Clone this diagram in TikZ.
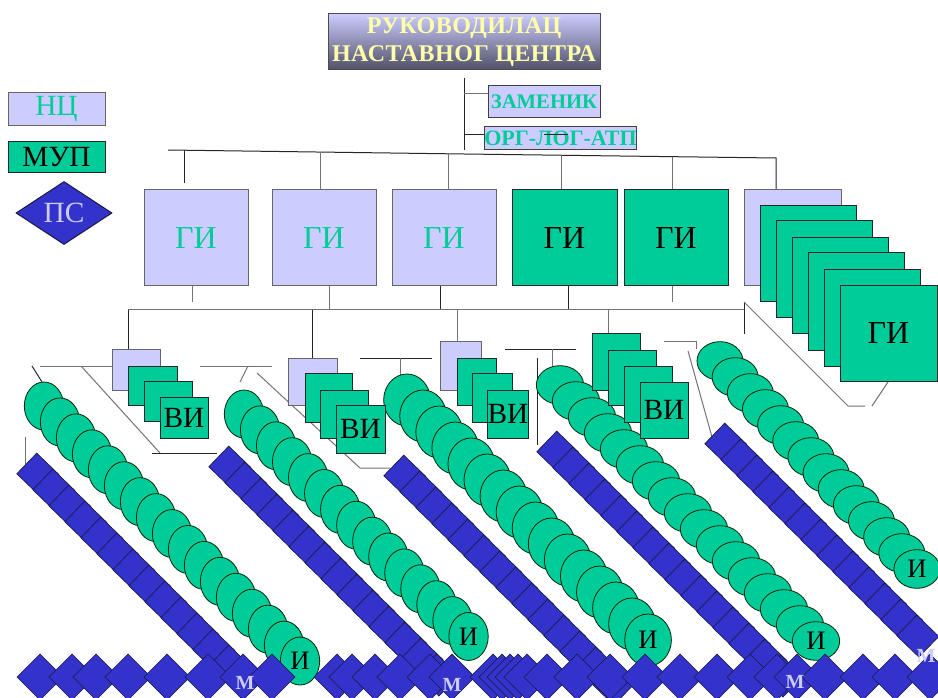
\documentclass[tikz,border=0pt]{standalone}
\usepackage{fontspec}
\setmainfont{Liberation Serif}
\usetikzlibrary{shapes.geometric}
\definecolor{lav}{HTML}{CCCCFF}
\definecolor{grn}{HTML}{00CC99}
\definecolor{blu}{HTML}{3333CC}
\definecolor{ylw}{HTML}{FFFFAA}
\definecolor{ttlbot}{HTML}{505068}
\definecolor{edgec}{HTML}{1A1A40}
\newcommand{\rbox}[7]{\node[#6, minimum width={(#4-#2)*0.75pt}, minimum height={(#5-#3)*0.75pt}] (#1) at ({(#2+#4)/2},{(#3+#5)/2}) {#7};}
\begin{document}
\begin{tikzpicture}[x=0.75pt,y=-0.75pt,
 ln/.style={draw=black!85, line width=0.75pt},
 lnG/.style={draw=black!55, line width=0.75pt},
 lavbox/.style={rectangle, fill=lav, draw=black!60, line width=0.75pt, inner sep=0pt, outer sep=0pt},
 grnbox/.style={rectangle, fill=grn, draw=black!85, line width=0.75pt, inner sep=0pt, outer sep=0pt},
 ell/.style={ellipse, fill=grn, draw=black!85!green, line width=0.6pt, inner sep=0pt},
 sq/.style={rectangle, fill=blu, draw=edgec, line width=0.5pt, minimum width=23pt, minimum height=21.5pt, inner sep=0pt, rotate=-44},
 dia/.style={rectangle, fill=blu, draw=edgec, line width=0.5pt, minimum size=24.4pt, inner sep=0pt, rotate=45},
 gi/.style={font=\fontsize{24}{28}\selectfont},
 vi/.style={font=\fontsize{22}{24}\selectfont},
 iw/.style={font=\fontsize{20}{22}\selectfont},
 lg/.style={font=\fontsize{22}{24}\selectfont},
 mlab/.style={font=\fontsize{15}{16}\selectfont\bfseries, text=lav, inner sep=0pt}
]
\useasboundingbox (0,0) rectangle (938,698);
\clip (0,0) rectangle (938,698);
\fill[white] (0,0) rectangle (938,698);

% ---------- connectors ----------
\draw[ln] (464,78) -- (464,150);
\draw[lnG] (464,94) -- (488,94);
\draw[ln] (464,135) -- (488,135);
\draw[ln] (168,150) -- (464,154) -- (776,158) -- (776,190);
\draw[ln] (184,150.5) -- (184,183);
\draw[lnG] (320,152) -- (320,190);
\draw[lnG] (448,153.5) -- (448,190);
\draw[lnG] (561,155.2) -- (561,190);
\draw[lnG] (672,156.6) -- (672,190);
\draw[lnG] (192,286) -- (192,302);
\draw[lnG] (329,286) -- (329,310);
\draw[ln] (440,286) -- (440,310);
\draw[ln] (568,286) -- (568,310);
\draw[lnG] (672,286) -- (672,302);
\draw[lnG] (128,310) -- (744,310);
\draw[ln] (744,302) -- (744,334);
\draw[lnG] (744,302) -- (848,406) -- (865,406);
\draw[lnG] (872,406) -- (888,382);
\draw[ln] (128,310) -- (128,349);
\draw[ln] (312,310) -- (312,358);
\draw[lnG] (457,310) -- (457,342);
\draw[lnG] (608,310) -- (608,334);
\draw[lnG] (40,366) -- (112,366);
\draw[ln] (32,366) -- (42,382);
\draw[lnG] (81,366) -- (160,453);
\draw[ln] (152,453) -- (217,453);
\draw[lnG] (25,437) -- (25,467);
\draw[lnG] (200,366) -- (272,366);
\draw[lnG] (248,366) -- (240,382);
\draw[lnG] (257,373) -- (360,468) -- (390,468);
\draw[ln] (360,358) -- (432,358);
\draw[lnG] (400,358) -- (400,382);
\draw[ln] (537,358) -- (537,445);
\draw[ln] (505,349) -- (576,349);
\draw[lnG] (552,349) -- (552,367);
\draw[lnG] (664,342) -- (696,342) -- (696,349);
\draw[lnG] (688,351) -- (712,437);

% ---------- legend ----------
\rbox{nc}{8}{93}{105}{126}{lavbox, text=grn, lg}{НЦ}
\rbox{mup}{8}{142}{105}{173}{grnbox, lg}{МУП}
\node[diamond, fill=blu, draw=edgec, line width=0.75pt, minimum width=72pt, minimum height=47.25pt, inner sep=0pt, text=lav, lg] (ps) at (64,213) {ПС};

% ---------- title ----------
\node[rectangle, top color=lav, bottom color=ttlbot, draw=black!70, line width=0.75pt, minimum width=204pt, minimum height=42pt, inner sep=0pt, align=center, text=ylw, font=\fontsize{18}{21}\selectfont\bfseries\addfontfeature{LetterSpace=2}] (ttl) at (464,42) {РУКОВОДИЛАЦ\\НАСТАВНОГ ЦЕНТРА};
\rbox{zam}{488}{86}{600}{118}{lavbox, draw=black!75, text=grn, font=\fontsize{15.5}{17}\selectfont\bfseries}{ЗАМЕНИК}
\rbox{org}{488}{127}{633}{150}{lavbox, draw=black!75, text=grn, font=\fontsize{16.5}{17}\selectfont\bfseries}{ОРГ-ЛОГ-АТП}
\draw[ln] (544,135) -- (568,135);

% ---------- GI row ----------
\rbox{gi1}{144}{190}{248}{286}{lavbox, text=grn, gi}{ГИ}
\rbox{gi2}{272}{190}{376}{286}{lavbox, text=grn, gi}{ГИ}
\rbox{gi3}{392}{190}{496}{286}{lavbox, text=grn, gi}{ГИ}
\rbox{gi4}{512}{190}{617}{286}{grnbox, gi}{ГИ}
\rbox{gi5}{624}{190}{728}{286}{grnbox, gi}{ГИ}
\rbox{gi6}{744}{190}{841}{286}{lavbox}{}
\rbox{gs1}{760}{206}{856}{302}{grnbox}{}
\rbox{gs2}{776}{221}{872}{318}{grnbox}{}
\rbox{gs3}{792}{238}{888}{334}{grnbox}{}
\rbox{gs4}{808}{253}{904}{350}{grnbox}{}
\rbox{gs5}{824}{270}{920}{366}{grnbox}{}
\rbox{gs6}{840}{286}{937}{381}{grnbox, gi}{ГИ}

% ---------- blue square chains ----------
\foreach \i in {0,...,12} \node[sq] (sa\i) at ({37.8+16*\i},{474.1+16*\i}) {};
\foreach \i in {0,...,13} \node[sq] (sb\i) at ({229.8+16*\i},{467.1+16*\i}) {};
\foreach \i in {0,...,13} \node[sq] (sc\i) at ({404.8+16*\i},{476.1+16*\i}) {};
\foreach \i in {0,...,14} \node[sq] (sd\i) at ({557.8+16*\i},{452.1+16*\i}) {};
\foreach \i in {0,...,12} \node[sq] (se\i) at ({725.8+16*\i},{444.1+16*\i}) {};

% ---------- ellipse chains ----------
\foreach \i in {0,...,16} \node[ell, minimum width=29.5pt, minimum height=36pt] (ea\i) at ({44+16*\i},{406+15.94*\i}) {};
\foreach \i in {0,...,14} \node[ell, minimum width=29.5pt, minimum height=36pt] (eb\i) at ({244+16.04*\i},{414+15.89*\i}) {};
\foreach \i in {0,...,15} \node[ell, minimum width=35pt, minimum height=39pt] (ec\i) at ({407+16.07*\i},{400+16*\i}) {};
\foreach \i in {0,...,16} \node[ell, minimum width=35.5pt, minimum height=29pt] (ed\i) at ({560+16*\i},{385+16*\i}) {};
\foreach \i in {0,...,13} \node[ell, minimum width=34.5pt, minimum height=29pt] (ee\i) at ({720+15.15*\i},{361+16*\i}) {};
\node[iw] (ia) at (ea16) {И};
\node[iw] (ib) at (eb14) {И};
\node[iw] (ic) at (ec15) {И};
\node[iw] (id) at (ed16) {И};
\node[iw] (ie) at (ee13) {И};

% ---------- VI groups ----------
\rbox{v1a}{112}{349}{160}{390}{lavbox}{}
\rbox{v1b}{128}{366}{177}{405}{grnbox}{}
\rbox{v1c}{144}{381}{192}{421}{grnbox}{}
\rbox{v1d}{160}{397}{208}{438}{grnbox, vi}{ВИ}
\rbox{v2a}{288}{358}{337}{405}{lavbox}{}
\rbox{v2b}{305}{373}{352}{422}{grnbox}{}
\rbox{v2c}{320}{390}{368}{438}{grnbox}{}
\rbox{v2d}{336}{405}{385}{453}{grnbox, vi}{ВИ}
\rbox{v3a}{440}{342}{481}{390}{lavbox}{}
\rbox{v3b}{457}{358}{496}{405}{grnbox}{}
\rbox{v3c}{472}{373}{512}{422}{grnbox}{}
\rbox{v3d}{488}{390}{528}{438}{grnbox, vi}{ВИ}
\rbox{v4a}{592}{334}{640}{390}{grnbox}{}
\rbox{v4b}{608}{350}{656}{405}{grnbox}{}
\rbox{v4c}{624}{366}{672}{422}{grnbox}{}
\rbox{v4d}{640}{382}{688}{438}{grnbox, vi}{ВИ}

% ---------- bottom diamonds ----------
\foreach[count=\k] \x in {40,72,96,128,167,208,243,272,337,352,375,400,430,452,493,502,510,518,527,547,577,610,645,680,717,750,777,797,825,863,895,930}
  \node[dia] (dm\k) at (\x,677) {};
\node[mlab] (m1) at (245,683) {М};
\node[mlab] (m2) at (452,685) {М};
\node[mlab] (m3) at (795,682) {М};
\node[mlab] (m4) at (926,656) {М};
\end{tikzpicture}
\end{document}
